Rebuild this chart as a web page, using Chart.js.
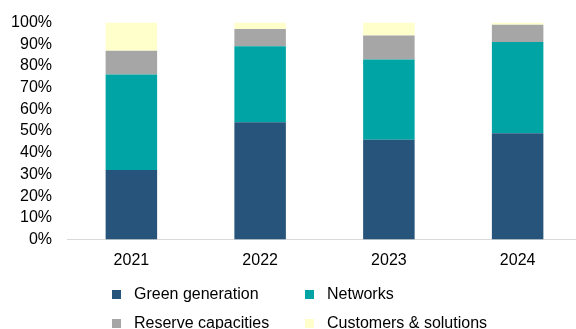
<!DOCTYPE html>
<html>
<head>
<meta charset="utf-8">
<script src="https://cdn.jsdelivr.net/npm/chart.js@4/dist/chart.umd.min.js"></script>
<style>
  html, body { margin: 0; padding: 0; background: #fff; }
  #wrap { position: relative; width: 576px; height: 329px; overflow: hidden; }
  #myChart { position: absolute; left: 0; top: 0; }
  #legend { position: absolute; left: 0; top: 0; width: 576px; height: 329px; pointer-events: none;
            font-family: "Liberation Sans", Arial, sans-serif; font-size: 16px; color: #000; }
  .item { position: absolute; white-space: nowrap; line-height: 20px; }
  .box { position: absolute; width: 9px; height: 9px; left: 0; top: 6px; }
  .txt { position: absolute; left: 22px; top: 0; }
</style>
</head>
<body>
<div id="wrap">
  <canvas id="myChart" width="582" height="329"></canvas>
  <div id="legend"></div>
</div>
<script>
const years = ["2021", "2022", "2023", "2024"];
const greenGeneration = [32, 54, 46, 49];
const networks = [44, 35, 37, 42];
const reserveCapacities = [11, 8, 11, 8];
const customersSolutions = [13, 3, 6, 1];

const seriesNames = ["Green generation", "Networks", "Reserve capacities", "Customers & solutions"];
const seriesColors = ["#26547A", "#00A4A4", "#A6A6A6", "#FFFFCC"];
const seriesData = [greenGeneration, networks, reserveCapacities, customersSolutions];

const ctx = document.getElementById("myChart");

const chart = new Chart(ctx, {
  type: "bar",
  data: {
    labels: years,
    datasets: seriesNames.map((name, i) => ({
      label: name,
      data: seriesData[i],
      backgroundColor: seriesColors[i],
      borderWidth: 0,
      categoryPercentage: 1,
      barPercentage: 0.4,
    })),
  },
  options: {
    responsive: false,
    animation: false,
    layout: {
      padding: { left: 11, right: 0, top: 22.5, bottom: 59 },
    },
    plugins: {
      legend: { display: false },
      tooltip: { enabled: false },
    },
    scales: {
      x: {
        stacked: true,
        grid: { display: false, drawTicks: false },
        border: { display: true, color: "#D9D9D9", width: 1 },
        ticks: {
          color: "#000",
          padding: 11,
          font: { family: "'Liberation Sans', Arial, sans-serif", size: 16 },
        },
        afterFit: (scale) => { scale.height = 30.5; },
      },
      y: {
        stacked: true,
        min: 0,
        max: 100,
        grid: { display: false, drawTicks: false },
        border: { display: false },
        ticks: {
          stepSize: 10,
          autoSkip: false,
          color: "#000",
          padding: 15,
          font: { family: "'Liberation Sans', Arial, sans-serif", size: 16 },
          callback: (v) => v + "%",
        },
        afterFit: (scale) => {
          scale.width = 56;
          scale.paddingTop = 0;
          scale.paddingBottom = 0;
        },
      },
    },
  },
});

// legend in two aligned columns, built from the datasets
const legend = document.getElementById("legend");
const legendPos = [[112, 284], [305, 284], [112, 313], [305, 313]];
chart.data.datasets.forEach((ds, i) => {
  const item = document.createElement("div");
  item.className = "item";
  item.style.left = legendPos[i][0] + "px";
  item.style.top = legendPos[i][1] + "px";
  const box = document.createElement("span");
  box.className = "box";
  box.style.background = ds.backgroundColor;
  const txt = document.createElement("span");
  txt.className = "txt";
  txt.textContent = ds.label;
  item.appendChild(box);
  item.appendChild(txt);
  legend.appendChild(item);
});
</script>
</body>
</html>
